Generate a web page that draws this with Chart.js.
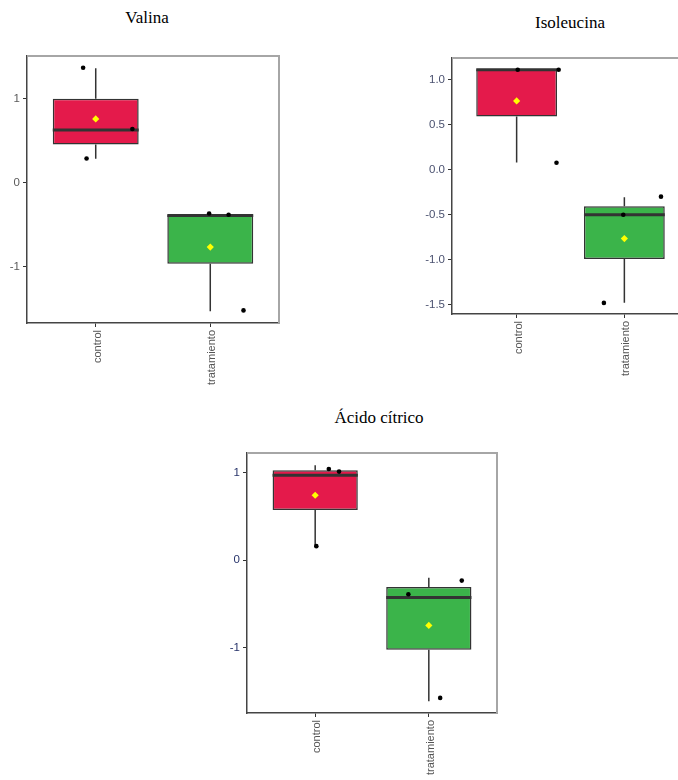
<!DOCTYPE html>
<html>
<head>
<meta charset="utf-8">
<script src="https://cdn.jsdelivr.net/npm/chart.js@4.4.1/dist/chart.umd.min.js"></script>
<style>
  html, body { margin: 0; padding: 0; background: #fff; width: 678px; height: 780px; overflow: hidden; position: relative; }
  .title { position: absolute; font-family: 'Liberation Serif', 'Times New Roman', serif; font-size: 17px; color: #000; white-space: nowrap; transform: translate(-50%, -50%); }
  canvas { position: absolute; }
</style>
</head>
<body>
<div class="title" style="left:147px; top:18px;">Valina</div>
<div class="title" style="left:570px; top:23px;">Isoleucina</div>
<div class="title" style="left:379px; top:418px;">Ácido cítrico</div>

<canvas id="valina" width="290" height="360" style="left:0px; top:40px;"></canvas>
<canvas id="isoleucina" width="300" height="360" style="left:400px; top:40px;"></canvas>
<canvas id="acido" width="310" height="350" style="left:200px; top:430px;"></canvas>

<script>
// Groups on the x axis (placed at positions 1 and 2)
const groups = ['control', 'tratamiento'];
const groupPos = [1, 2];
const groupColors = ['#E41A4B', '#3BB44A'];

// ---- Valina ----
const valinaMin    = [0.286, -1.53];
const valinaQ1     = [0.456, -0.964];
const valinaMedian = [0.63, -0.39];
const valinaQ3     = [1.0, -0.381];
const valinaMax    = [1.365, -0.365];
const valinaMean   = [0.76, -0.766];
const valinaPtGroup  = [0, 0, 0, 1, 1, 1];
const valinaPtJitter = [-0.11, 0.32, -0.08, -0.01, 0.16, 0.29];
const valinaPtValue  = [1.37, 0.64, 0.29, -0.365, -0.38, -1.52];
const valinaTicks    = [-1, 0, 1];

// ---- Isoleucina ----
const isoMin    = [0.08, -1.478];
const isoQ1     = [0.59, -0.993];
const isoMedian = [1.11, -0.502];
const isoQ3     = [1.114, -0.406];
const isoMax    = [1.114, -0.306];
const isoMean   = [0.763, -0.765];
const isoPtGroup  = [0, 0, 0, 1, 1, 1];
const isoPtJitter = [0.01, 0.39, 0.37, -0.01, 0.34, -0.19];
const isoPtValue  = [1.11, 1.11, 0.077, -0.50, -0.30, -1.48];
const isoTicks    = [-1.5, -1.0, -0.5, 0.0, 0.5, 1.0];

// ---- Ácido cítrico ----
const acidoMin    = [0.16, -1.615];
const acidoQ1     = [0.577, -1.025];
const acidoMedian = [0.974, -0.427];
const acidoQ3     = [1.031, -0.305];
const acidoMax    = [1.09, -0.199];
const acidoMean   = [0.745, -0.747];
const acidoPtGroup  = [0, 0, 0, 1, 1, 1];
const acidoPtJitter = [0.12, 0.21, 0.01, -0.18, 0.29, 0.10];
const acidoPtValue  = [1.046, 1.016, 0.162, -0.389, -0.233, -1.577];
const acidoTicks    = [-1, 0, 1];

const BOX_WIDTH = 0.75;
const INK = '#333333';

// Light top/right edges of the panel frame
const framePlugin = {
  id: 'panelFrame',
  afterDraw(chart) {
    const { ctx, chartArea: { left, top, right, bottom } } = chart;
    ctx.save();
    ctx.strokeStyle = '#a6a6a6';
    ctx.lineWidth = 2;
    ctx.beginPath();
    ctx.moveTo(left, top);
    ctx.lineTo(right, top);
    ctx.lineTo(right, bottom);
    ctx.stroke();
    ctx.restore();
  }
};

function whiskerData(lo, q1, q3, hi) {
  const pts = [];
  groupPos.forEach((x, i) => {
    pts.push({ x, y: q3[i] }, { x, y: hi[i] }, { x, y: null });
    pts.push({ x, y: q1[i] }, { x, y: lo[i] }, { x, y: null });
  });
  return pts;
}

function medianData(med) {
  const pts = [];
  groupPos.forEach((x, i) => {
    pts.push({ x: x - BOX_WIDTH / 2, y: med[i] }, { x: x + BOX_WIDTH / 2, y: med[i] }, { x, y: null });
  });
  return pts;
}

function boxChart(id, s) {
  const yTickFmt = (v) => (s.decimals ? v.toFixed(s.decimals) : String(v));
  return new Chart(document.getElementById(id), {
    type: 'bar',
    data: {
      datasets: [
        {
          type: 'line', order: 5,
          data: whiskerData(s.min, s.q1, s.q3, s.max),
          borderColor: INK, borderWidth: 1.5, pointRadius: 0, fill: false, spanGaps: false, tension: 0
        },
        {
          type: 'bar', order: 4,
          data: groupPos.map((x, i) => ({ x, y: [s.q1[i], s.q3[i]] })),
          backgroundColor: groupColors, borderColor: INK, borderWidth: 1.5, borderSkipped: false,
          barPercentage: BOX_WIDTH, categoryPercentage: 1
        },
        {
          type: 'line', order: 3,
          data: medianData(s.median),
          borderColor: INK, borderWidth: 3, pointRadius: 0, fill: false, spanGaps: false, borderCapStyle: 'butt'
        },
        {
          type: 'scatter', order: 2,
          data: s.ptValue.map((v, i) => ({ x: groupPos[s.ptGroup[i]] + s.ptJitter[i], y: v })),
          backgroundColor: '#000', borderWidth: 0, pointRadius: 2.3
        },
        {
          type: 'scatter', order: 1,
          data: groupPos.map((x, i) => ({ x, y: s.mean[i] })),
          backgroundColor: '#FFFF00', borderWidth: 0, pointRadius: 3.6, pointStyle: 'rectRot'
        }
      ]
    },
    options: {
      responsive: false,
      devicePixelRatio: 1,
      animation: false,
      layout: { padding: { top: s.padTop, right: s.padRight, left: 0, bottom: 0 } },
      plugins: { legend: { display: false }, tooltip: { enabled: false } },
      scales: {
        x: {
          type: 'linear', min: 0.4, max: 2.6, offset: false,
          afterBuildTicks: (sc) => { sc.ticks = groupPos.map(v => ({ value: v })); },
          afterFit: (sc) => { sc.height = s.xHeight; },
          border: { color: '#444', width: 1.5 },
          grid: { drawOnChartArea: false, drawTicks: true, tickLength: 4, tickColor: INK, tickWidth: 1, offset: false },
          ticks: {
            autoSkip: false, minRotation: 90, maxRotation: 90, padding: 3, labelOffset: 2,
            color: '#555', font: { family: "'Liberation Sans', Arial, sans-serif", size: 11 },
            callback: (v, i) => groups[i]
          }
        },
        y: {
          type: 'linear', min: s.yMin, max: s.yMax,
          afterBuildTicks: (sc) => { sc.ticks = s.ticks.map(v => ({ value: v })); },
          afterFit: (sc) => { sc.width = s.yWidth; },
          border: { color: '#444', width: 1.5 },
          grid: { drawOnChartArea: false, drawTicks: true, tickLength: 4, tickColor: INK, tickWidth: 1 },
          ticks: {
            padding: 3, color: s.tickColor,
            font: { family: "'Liberation Sans', Arial, sans-serif", size: 11.5 },
            callback: (v) => yTickFmt(v)
          }
        }
      }
    },
    plugins: [framePlugin]
  });
}

boxChart('valina', {
  min: valinaMin, q1: valinaQ1, median: valinaMedian, q3: valinaQ3, max: valinaMax, mean: valinaMean,
  ptGroup: valinaPtGroup, ptJitter: valinaPtJitter, ptValue: valinaPtValue, ticks: valinaTicks, decimals: 0,
  yMin: -1.67, yMax: 1.51, yWidth: 27, xHeight: 77, padTop: 16, padRight: 11, tickColor: '#5a5a5a'
});

boxChart('isoleucina', {
  min: isoMin, q1: isoQ1, median: isoMedian, q3: isoQ3, max: isoMax, mean: isoMean,
  ptGroup: isoPtGroup, ptJitter: isoPtJitter, ptValue: isoPtValue, ticks: isoTicks, decimals: 1,
  yMin: -1.603, yMax: 1.24, yWidth: 52, xHeight: 86, padTop: 18, padRight: 11, tickColor: '#4b5270'
});

boxChart('acido', {
  min: acidoMin, q1: acidoQ1, median: acidoMedian, q3: acidoQ3, max: acidoMax, mean: acidoMean,
  ptGroup: acidoPtGroup, ptJitter: acidoPtJitter, ptValue: acidoPtValue, ticks: acidoTicks, decimals: 0,
  yMin: -1.75, yMax: 1.229, yWidth: 47, xHeight: 67, padTop: 23, padRight: 13, tickColor: '#27336a'
});
</script>
</body>
</html>
